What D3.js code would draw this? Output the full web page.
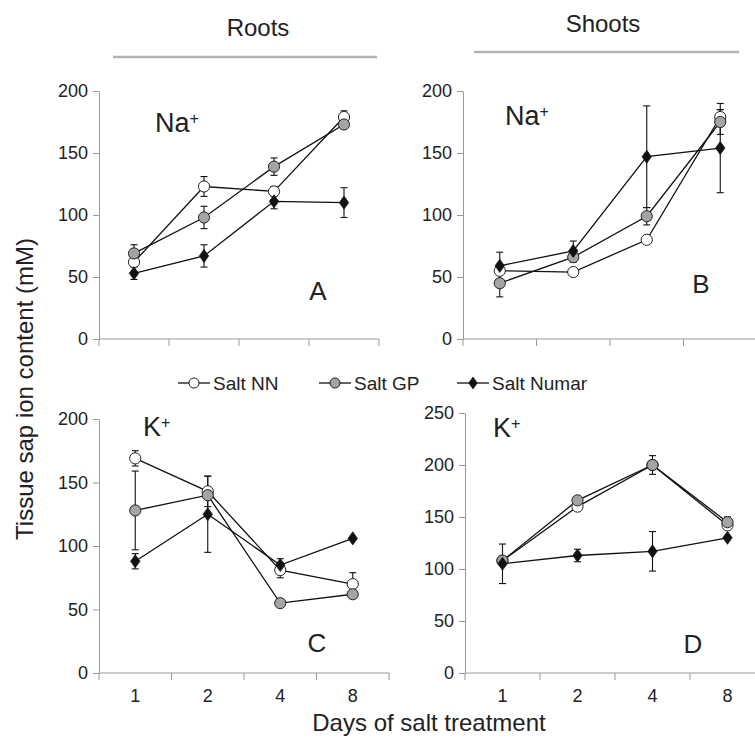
<!DOCTYPE html>
<html>
<head>
<meta charset="utf-8">
<script src="https://cdn.jsdelivr.net/npm/d3@7"></script>
<style>
  body { margin: 0; background: #fff; }
  svg { font-family: "Liberation Sans", Arial, Helvetica, sans-serif; }
  .axis path, .axis line { stroke: #999; }
  .axis text { fill: #222; font-size: 18px; }
</style>
</head>
<body>
<svg id="chart" width="755" height="738"></svg>
<script>
// days on the x axis and the three lines
const days = ["1", "2", "4", "8"];
const seriesNames = ["Salt NN", "Salt GP", "Salt Numar"];

// A: roots Na+
const rootsNaNN = [62, 123, 119, 179];
const rootsNaNNErr = [3, 8, 4, 5];
const rootsNaGP = [69, 98, 139, 173];
const rootsNaGPErr = [7, 9, 7, 3];
const rootsNaNumar = [53, 67, 111, 110];
const rootsNaNumarErr = [5, 9, 6, 12];

// B: shoots Na+
const shootsNaNN = [55, 54, 80, 179];
const shootsNaNNErr = [0, 0, 0, 6];
const shootsNaGP = [45, 66, 99, 175];
const shootsNaGPErr = [11, 4, 7, 10];
const shootsNaNumar = [59, 71, 147, 154];
const shootsNaNumarErr = [11, 8, 41, 36];

// C: roots K+
const rootsKNN = [169, 143, 81, 70];
const rootsKNNErr = [6, 12, 6, 9];
const rootsKGP = [128, 140, 55, 62];
const rootsKGPErr = [31, 0, 0, 0];
const rootsKNumar = [88, 125, 85, 106];
const rootsKNumarErr = [6, 30, 5, 0];

// D: shoots K+
const shootsKNN = [108, 160, 200, 142];
const shootsKNNErr = [0, 0, 0, 0];
const shootsKGP = [108, 166, 200, 145];
const shootsKGPErr = [0, 0, 9, 5];
const shootsKNumar = [105, 113, 117, 130];
const shootsKNumarErr = [19, 6, 19, 0];

const naTicks = [0, 50, 100, 150, 200];
const kRootTicks = [0, 50, 100, 150, 200];
const kShootTicks = [0, 50, 100, 150, 200, 250];

const svg = d3.select("#chart");

const panels = [
  {letter: "A", ion: "Na", x0: 99, w: 280, yTop: 91, yBot: 339, max: 200, ticks: naTicks,
   ionX: 56, ionY: 41, letX: 318, letY: 300, labels: false,
   vals: [rootsNaNN, rootsNaGP, rootsNaNumar], errs: [rootsNaNNErr, rootsNaGPErr, rootsNaNumarErr]},
  {letter: "B", ion: "Na", x0: 463, w: 294, yTop: 91, yBot: 339, max: 200, ticks: naTicks,
   ionX: 42, ionY: 34, letX: 701, letY: 293, labels: false,
   vals: [shootsNaNN, shootsNaGP, shootsNaNumar], errs: [shootsNaNNErr, shootsNaGPErr, shootsNaNumarErr]},
  {letter: "C", ion: "K", x0: 99, w: 290, yTop: 419, yBot: 673, max: 200, ticks: kRootTicks,
   ionX: 44, ionY: 17, letX: 317, letY: 652, labels: true,
   vals: [rootsKNN, rootsKGP, rootsKNumar], errs: [rootsKNNErr, rootsKGPErr, rootsKNumarErr]},
  {letter: "D", ion: "K", x0: 465, w: 300, yTop: 413, yBot: 673, max: 250, ticks: kShootTicks,
   ionX: 28, ionY: 24, letX: 693, letY: 653, labels: true,
   vals: [shootsKNN, shootsKGP, shootsKNumar], errs: [shootsKNNErr, shootsKGPErr, shootsKNumarErr]}
];

function drawMarker(g, i, cx, cy, k) {
  k = k || 1;
  if (i == 2) {
    g.append("path")
      .attr("d", d3.symbol(d3.symbolDiamond2, 110 * k * k)())
      .attr("transform", "translate(" + cx + "," + cy + ") scale(0.72,1)")
      .attr("fill", "#111")
      .attr("stroke", "#111")
      .attr("stroke-width", 0.8);
  } else {
    g.append("circle")
      .attr("cx", cx).attr("cy", cy).attr("r", 5.6 * k)
      .attr("fill", i == 0 ? "#fff" : "#a4a4a4")
      .attr("stroke", "#222")
      .attr("stroke-width", 1);
  }
}

panels.forEach(p => {
  const x = d3.scaleBand().domain(days).range([p.x0, p.x0 + p.w]);
  const y = d3.scaleLinear().domain([0, p.max]).range([p.yBot, p.yTop]);
  const g = svg.append("g");

  // y axis
  g.append("g")
    .attr("class", "axis")
    .attr("transform", "translate(" + p.x0 + ",0)")
    .call(d3.axisLeft(y).tickValues(p.ticks).tickSize(6).tickSizeOuter(0).tickPadding(5));

  // x axis, ticks on the band edges
  const xa = g.append("g").attr("class", "axis");
  xa.append("line")
    .attr("x1", p.x0).attr("x2", p.x0 + p.w)
    .attr("y1", y(0)).attr("y2", y(0));
  const edges = days.map(d => x(d)).concat([p.x0 + p.w]);
  xa.selectAll("line.tk")
    .data(edges)
    .enter()
    .append("line")
      .attr("class", "tk")
      .attr("x1", d => d).attr("x2", d => d)
      .attr("y1", y(0)).attr("y2", y(0) + 7);
  if (p.labels) {
    xa.selectAll("text")
      .data(days)
      .enter()
      .append("text")
        .attr("x", d => x(d) + x.bandwidth() / 2)
        .attr("y", y(0) + 29)
        .attr("text-anchor", "middle")
        .text(d => d);
  }

  // lines, error bars and markers
  p.vals.forEach((vals, i) => {
    const line = d3.line()
      .x((v, j) => x(days[j]) + x.bandwidth() / 2)
      .y(v => y(v));
    g.append("path")
      .attr("d", line(vals))
      .attr("fill", "none")
      .attr("stroke", "#111")
      .attr("stroke-width", 1.3);
  });
  p.vals.forEach((vals, i) => {
    vals.forEach((v, j) => {
      const e = p.errs[i][j];
      if (e > 0) {
        const cx = x(days[j]) + x.bandwidth() / 2;
        const eg = g.append("g").attr("stroke", "#111").attr("stroke-width", 1.1);
        eg.append("line").attr("x1", cx).attr("x2", cx).attr("y1", y(v - e)).attr("y2", y(v + e));
        eg.append("line").attr("x1", cx - 3.5).attr("x2", cx + 3.5).attr("y1", y(v - e)).attr("y2", y(v - e));
        eg.append("line").attr("x1", cx - 3.5).attr("x2", cx + 3.5).attr("y1", y(v + e)).attr("y2", y(v + e));
      }
    });
  });
  p.vals.forEach((vals, i) => {
    vals.forEach((v, j) => {
      drawMarker(g, i, x(days[j]) + x.bandwidth() / 2, y(v));
    });
  });

  // ion label and panel letter
  const ion = g.append("text")
    .attr("x", p.x0 + p.ionX)
    .attr("y", p.yTop + p.ionY)
    .attr("font-size", 27)
    .attr("fill", "#222");
  ion.append("tspan").text(p.ion);
  ion.append("tspan").attr("font-size", 16).attr("dy", -8).text("+");

  g.append("text")
    .attr("x", p.letX).attr("y", p.letY)
    .attr("text-anchor", "middle")
    .attr("font-size", 26)
    .attr("fill", "#222")
    .text(p.letter);
});

// headers
const headers = [
  {t: "Roots", cx: 258, ty: 36, x1: 113, x2: 377, ly: 57},
  {t: "Shoots", cx: 603, ty: 32, x1: 474, x2: 739, ly: 52}
];
headers.forEach(h => {
  svg.append("text")
    .attr("x", h.cx).attr("y", h.ty)
    .attr("text-anchor", "middle")
    .attr("font-size", 24)
    .attr("fill", "#222")
    .text(h.t);
  svg.append("line")
    .attr("x1", h.x1).attr("x2", h.x2)
    .attr("y1", h.ly).attr("y2", h.ly)
    .attr("stroke", "#b2b2b6")
    .attr("stroke-width", 2.5);
});

// legend
const legendX = [178, 319, 457];
seriesNames.forEach((s, i) => {
  const lg = svg.append("g");
  lg.append("line")
    .attr("x1", legendX[i]).attr("x2", legendX[i] + 32)
    .attr("y1", 383).attr("y2", 383)
    .attr("stroke", "#111").attr("stroke-width", 1.3);
  drawMarker(lg, i, legendX[i] + 16, 383, 0.9);
  lg.append("text")
    .attr("x", legendX[i] + 35).attr("y", 390)
    .attr("font-size", 19)
    .attr("fill", "#222")
    .text(s);
});

// axis titles
svg.append("text")
  .attr("x", 429).attr("y", 731)
  .attr("text-anchor", "middle")
  .attr("font-size", 24)
  .attr("fill", "#222")
  .text("Days of salt treatment");

svg.append("text")
  .attr("transform", "translate(33,389) rotate(-90)")
  .attr("text-anchor", "middle")
  .attr("font-size", 24)
  .attr("fill", "#222")
  .text("Tissue sap ion content (mM)");
</script>
</body>
</html>
